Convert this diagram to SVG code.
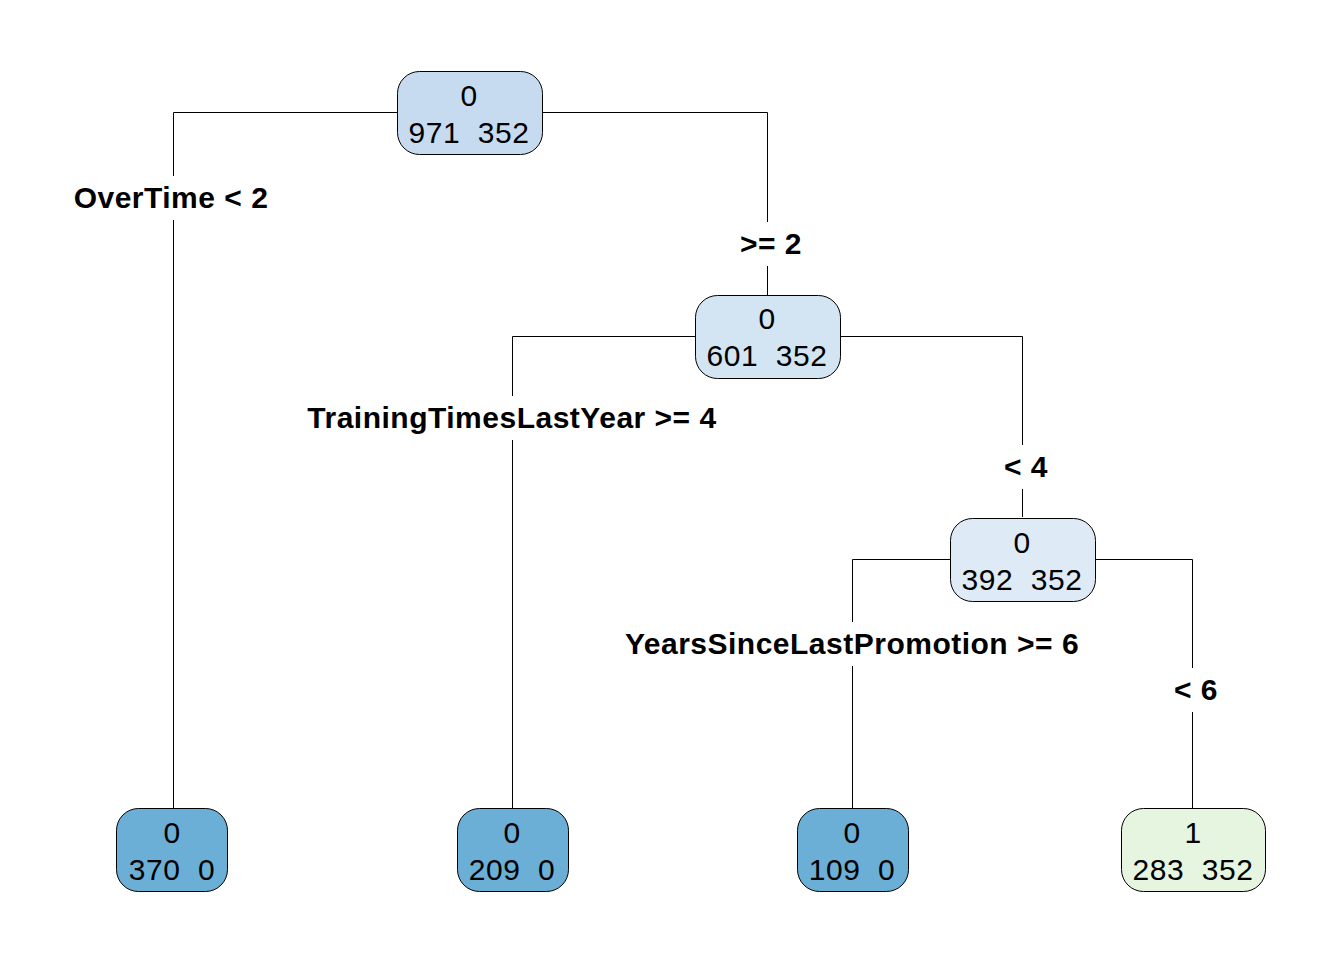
<svg xmlns="http://www.w3.org/2000/svg" width="1344" height="960" viewBox="0 0 1344 960">
<style>
.n{stroke:#000;stroke-width:1}
.t{font-family:"Liberation Sans",Arial,sans-serif;font-size:30px;letter-spacing:0.5px;text-anchor:middle;fill:#000}
.l{font-family:"Liberation Sans",Arial,sans-serif;font-size:30px;letter-spacing:0.5px;font-weight:bold;text-anchor:middle;fill:#000}
.c{fill:none;stroke:#000;stroke-width:1}
</style>
<rect width="1344" height="960" fill="#fff"/>
<g id="connectors">
<path class="c" d="M397,112.5H173.5V176M173.5,220V808"/>
<path class="c" d="M542,112.5H767.5V222M767.5,266V295"/>
<path class="c" d="M695,336.5H512.5V396M512.5,440V808"/>
<path class="c" d="M840,336.5H1022.5V445M1022.5,489V517"/>
<path class="c" d="M950,559.5H852.5V622M852.5,666V808"/>
<path class="c" d="M1096,559.5H1192.5V668M1192.5,712V808"/>
<text class="l" x="171" y="208">OverTime &lt; 2</text>
<text class="l" x="771" y="254">&gt;= 2</text>
<text class="l" x="512" y="428">TrainingTimesLastYear &gt;= 4</text>
<text class="l" x="1026" y="477">&lt; 4</text>
<text class="l" x="852" y="654">YearsSinceLastPromotion &gt;= 6</text>
<text class="l" x="1196" y="700">&lt; 6</text>
</g>
<g id="root">
<rect class="n" x="397.5" y="71.5" width="145" height="83" rx="22" fill="#C6DBEF"/>
<text class="t" x="469" y="106">0</text>
<text class="t" x="469" y="143" xml:space="preserve">971  352</text>
</g>
<g id="node2">
<rect class="n" x="695.5" y="295.5" width="145" height="83" rx="22" fill="#D3E4F3"/>
<text class="t" x="767" y="329">0</text>
<text class="t" x="767" y="366" xml:space="preserve">601  352</text>
</g>
<g id="node3">
<rect class="n" x="950.5" y="518.5" width="145" height="83" rx="22" fill="#DEEBF7"/>
<text class="t" x="1022" y="553">0</text>
<text class="t" x="1022" y="590" xml:space="preserve">392  352</text>
</g>
<g id="leaf1">
<rect class="n" x="116.5" y="808.5" width="111" height="83" rx="22" fill="#6BAED6"/>
<text class="t" x="172" y="843">0</text>
<text class="t" x="172" y="880" xml:space="preserve">370  0</text>
</g>
<g id="leaf2">
<rect class="n" x="457.5" y="808.5" width="111" height="83" rx="22" fill="#6BAED6"/>
<text class="t" x="512" y="843">0</text>
<text class="t" x="512" y="880" xml:space="preserve">209  0</text>
</g>
<g id="leaf3">
<rect class="n" x="797.5" y="808.5" width="111" height="83" rx="22" fill="#6BAED6"/>
<text class="t" x="852" y="843">0</text>
<text class="t" x="852" y="880" xml:space="preserve">109  0</text>
</g>
<g id="leaf4">
<rect class="n" x="1121.5" y="808.5" width="144" height="83" rx="22" fill="#E5F5E0"/>
<text class="t" x="1193" y="843">1</text>
<text class="t" x="1193" y="880" xml:space="preserve">283  352</text>
</g>
</svg>
